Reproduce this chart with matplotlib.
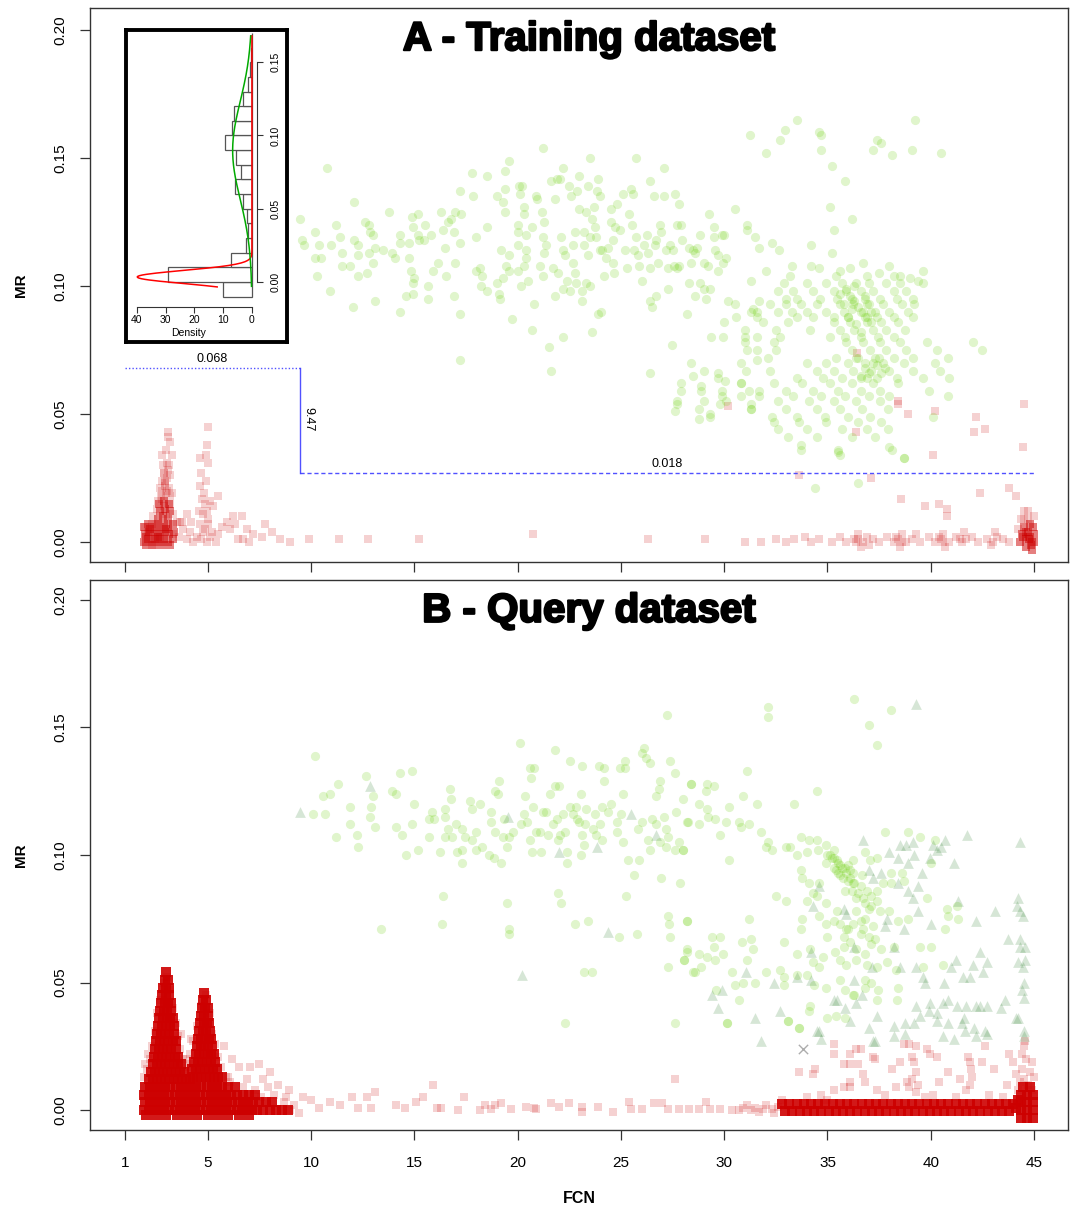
import numpy as np
import matplotlib
matplotlib.use("Agg")
import matplotlib.pyplot as plt
import matplotlib.patheffects as pe

plt.rcParams['font.family'] = ['Liberation Sans', 'DejaVu Sans']

# ---------------- axis ticks / labels ----------------
fcn_ticks = [1, 5, 10, 15, 20, 25, 30, 35, 40, 45]
mr_ticks = [0.0, 0.05, 0.10, 0.15, 0.20]
mr_tick_labels = ['0.00', '0.05', '0.10', '0.15', '0.20']
titles = ['A - Training dataset', 'B - Query dataset']

# ---------------- threshold annotation ----------------
fcn_cut = 9.47
mr_upper = 0.068
mr_lower = 0.027
fcn_min, fcn_max = 1, 45
cut_labels = ['0.068', '9.47', '0.018']

# ---------------- inset histogram (MR of training set) ----------------
hist_edges = [-0.01, 0.0, 0.01, 0.02, 0.03, 0.04, 0.05, 0.06, 0.07, 0.08, 0.09,
              0.10, 0.11, 0.12, 0.13, 0.14, 0.15, 0.16, 0.17]
hist_density = [10.2, 29.3, 7.2, 2.1, 1.5, 1.8, 3.0, 5.8, 3.8, 5.6, 9.3,
                7.0, 6.4, 3.2, 1.5, 0.7, 0.2, 0.1]
# fitted mixture components: weight, mean, sd
comp_neg = (0.44, 0.0034, 0.0044)
comp_pos = (0.563, 0.0898, 0.0335)
inset_xticks = [0, 10, 20, 30, 40]
inset_yticks = [0.0, 0.05, 0.10, 0.15]
inset_ylabels = ['0.00', '0.05', '0.10', '0.15']

# ---------------- training set: positive (green circles) ----------------
train_pos = [
(10.76,.146),(9.47,.126),(9.55,.118),(9.68,.116),(10.2,.121),(10.2,.111),(10.5,.111),(10.3,.104),(10.4,.116),(10.9,.098),
(10.95,.116),(11.2,.124),(11.4,.119),(11.5,.113),(11.5,.108),(11.9,.108),(12.05,.092),(12.1,.133),(12.1,.118),(12.3,.116),
(12.3,.112),(12.3,.104),(12.6,.125),(12.8,.124),(12.85,.121),(13.0,.120),(12.8,.113),(12.7,.105),(13.0,.109),(13.1,.094),
(13.1,.115),(13.5,.114),(13.8,.129),(13.9,.113),(14.05,.111),(14.3,.120),(14.3,.117),(14.3,.090),(14.6,.096),(14.75,.117),
(14.75,.111),(14.85,.106),(14.9,.127),(14.95,.123),(14.95,.101),(15.0,.103),(14.95,.097),(15.2,.128),(15.2,.120),(15.25,.118),
(15.45,.118),(15.5,.124),(15.65,.100),(15.65,.095),(15.8,.120),(15.9,.106),(16.15,.109),(16.3,.129),(16.4,.122),(16.5,.115),
(16.55,.104),(16.65,.125),(16.8,.126),(16.9,.121),(16.9,.096),(16.95,.109),(16.95,.129),(17.2,.137),(17.2,.117),(17.25,.128),
(17.2,.089),(17.2,.071),(17.8,.144),(17.85,.135),(18.0,.119),(18.0,.106),(18.2,.107),(18.3,.104),(18.25,.100),(18.5,.123),
(18.5,.098),(18.5,.143),(19.0,.135),(19.0,.101),(19.1,.097),(19.2,.114),(19.15,.095),(19.3,.133),(19.4,.129),(19.4,.138),
(19.4,.145),(19.3,.103),(19.45,.108),(19.6,.149),(19.6,.112),(19.75,.087),(19.6,.106),(20.05,.139),(20.1,.136),(20.0,.124),
(20.0,.121),(20.0,.116),(20.0,.106),(20.15,.100),(20.2,.139),(20.3,.131),(20.3,.128),(20.4,.120),(20.4,.114),(20.4,.111),
(20.3,.108),(20.5,.102),(20.7,.083),(20.7,.123),(20.8,.093),(20.9,.135),(20.95,.134),(21.1,.108),(21.25,.154),(21.2,.129),
(21.25,.119),(21.3,.125),(21.3,.113),(21.25,.104),(21.4,.116),(21.5,.076),(21.6,.141),(21.6,.067),(21.7,.107),(21.8,.134),
(21.8,.096),(21.9,.142),(21.95,.105),(22.05,.142),(22.1,.119),(22.2,.114),(22.2,.146),(22.2,.099),(22.2,.080),(22.3,.112),
(22.4,.102),(22.5,.139),(22.55,.098),(22.6,.135),(22.7,.116),(22.7,.109),(22.8,.105),(22.8,.121),(22.85,.101),(22.9,.137),
(22.95,.143),(22.95,.130),(23.1,.098),(23.1,.094),(23.2,.116),(23.2,.121),(23.3,.129),(23.3,.101),(23.4,.139),(23.4,.112),
(23.5,.119),(23.5,.100),(23.5,.150),(23.6,.126),(23.6,.082),(23.7,.131),(23.75,.123),(23.8,.119),(23.85,.137),(23.9,.142),
(23.9,.089),(24.0,.135),(24.0,.114),(24.05,.090),(24.1,.114),(24.2,.104),(24.3,.111),(24.4,.115),(24.5,.125),(24.5,.130),
(24.6,.109),(24.6,.118),(24.65,.105),(24.7,.123),(24.8,.132),(24.95,.122),(25.1,.136),(25.2,.114),(25.3,.107),(25.4,.128),
(25.5,.138),(25.55,.124),(25.6,.136),(25.65,.114),(25.75,.150),(25.75,.119),(25.85,.112),(25.9,.108),(26.0,.102),(26.1,.116),
(26.25,.120),(26.3,.113),(26.4,.107),(26.4,.141),(26.4,.094),(26.4,.066),(26.5,.092),(26.6,.135),(26.65,.116),(26.7,.118),
(26.7,.096),(26.8,.109),(26.9,.124),(26.95,.121),(27.1,.135),(27.1,.146),(27.2,.114),(27.3,.099),(27.3,.107),(27.4,.116),
(27.45,.077),(27.6,.136),(27.7,.124),(27.7,.107),
(27.8,.132),(27.9,.124),(27.5,.114),(27.55,.108),(27.8,.108),(27.95,.118),(28.2,.089),(28.3,.115),(28.4,.109),(28.5,.114),
(28.6,.113),(28.7,.115),(28.3,.101),(28.6,.096),(28.85,.101),(29.0,.109),(28.85,.120),(29.0,.099),(29.1,.095),(29.25,.128),
(29.3,.099),(29.2,.108),(29.5,.123),(29.5,.119),(29.55,.114),(29.7,.112),(29.7,.106),(29.9,.120),(29.95,.109),(30.1,.111),
(30.0,.120),(29.35,.080),(29.95,.080),(30.2,.094),(30.5,.130),(30.55,.088),(31.1,.124),(31.1,.122),(31.5,.119),(31.7,.115),
(32.3,.117),(32.65,.114),(32.0,.106),(31.3,.102),(31.4,.091),(31.7,.094),(31.6,.090),(31.0,.080),(31.1,.075),(31.6,.071),
(31.05,.067),(30.8,.062),(30.8,.057),(31.3,.054),(31.3,.052),(31.7,.059),(29.7,.066),(30.05,.063),(29.9,.059),(29.8,.054),
(29.3,.050),(28.8,.048),(29.0,.055),(28.9,.061),(28.5,.065),(27.9,.059),(27.7,.054),(27.6,.051),
(31.25,.159),(32.0,.152),(32.7,.157),(32.95,.161),(33.5,.165),(34.6,.160),(34.7,.159),(34.7,.153),(35.2,.147),(35.85,.141),
(35.1,.131),(36.2,.126),(35.3,.122),(35.2,.113),(34.2,.116),(37.2,.153),(37.4,.157),(37.6,.156),(38.1,.151),(39.1,.153),
(39.25,.165),(40.5,.152),
(34.2,.108),(34.6,.107),(35.6,.106),(36.1,.107),(36.7,.109),(36.9,.104),(37.5,.105),(38.0,.108),(38.2,.104),(38.5,.104),
(39.0,.103),(39.4,.102),(39.6,.106),(33.3,.108),(33.2,.104),(35.4,.104),
(32.9,.101),(33.35,.098),(33.5,.095),(34.0,.101),(34.3,.098),(34.65,.095),(34.95,.101),(35.3,.098),(35.45,.095),(35.7,.101),
(35.9,.098),(36.2,.095),(36.4,.101),(36.6,.098),(36.8,.095),(37.0,.101),(37.2,.098),(37.55,.095),(37.85,.101),(38.2,.098),
(38.35,.095),(38.5,.101),(38.8,.098),(39.15,.095),(39.6,.101),(32.6,.098),(33.0,.095),
(33.0,.093),(33.3,.090),(33.5,.088),(33.7,.093),(34.0,.090),(34.3,.088),(34.5,.093),(34.95,.090),(35.3,.088),(35.6,.093),
(35.8,.090),(36.0,.088),(36.25,.093),(36.6,.090),(36.8,.088),(36.9,.093),(37.1,.090),(37.4,.088),(37.7,.093),(38.0,.090),
(38.2,.088),(38.6,.093),(38.9,.090),(39.15,.088),(39.2,.093),(31.3,.090),(31.6,.088),(32.2,.093),(32.6,.090),(30.5,.093),
(31.9,.086),(32.5,.083),(32.7,.080),(33.1,.086),(34.15,.083),(35.1,.080),(35.3,.086),(35.6,.083),(35.85,.080),(36.1,.086),
(36.3,.083),(36.6,.080),(36.9,.086),(37.2,.083),(37.45,.080),(37.6,.086),(37.85,.083),(38.2,.080),(38.4,.086),(38.75,.083),
(30.0,.086),(31.0,.083),(31.6,.080),
(31.0,.078),(31.6,.075),(32.1,.072),(32.4,.078),(32.5,.075),(35.4,.072),(35.9,.078),(36.2,.075),(36.4,.072),(36.7,.078),
(37.05,.075),(37.3,.072),(37.55,.078),(37.85,.075),(38.2,.072),(38.5,.078),(38.8,.075),(39.15,.072),(39.8,.078),(40.3,.075),
(40.85,.072),(42.05,.078),(42.5,.075),
(28.4,.070),(29.0,.067),(29.7,.064),(30.8,.070),(32.2,.067),(33.5,.064),(34.0,.070),(34.5,.067),(34.8,.064),(34.95,.070),
(35.3,.067),(35.7,.064),(36.0,.070),(36.25,.067),(36.6,.064),(36.8,.070),(37.1,.067),(37.4,.064),(37.7,.070),(38.0,.067),
(38.35,.064),(38.7,.070),(39.15,.067),(39.6,.064),(40.2,.070),(40.45,.067),(40.9,.064),
(27.9,.062),(28.9,.059),(29.9,.057),(30.8,.062),(31.2,.059),(31.7,.057),(32.4,.062),(33.0,.059),(33.35,.057),(33.75,.062),
(34.3,.059),(34.7,.057),(35.1,.062),(35.5,.059),(35.85,.057),(36.2,.062),(36.6,.059),(37.0,.057),(37.2,.062),(37.55,.059),
(38.0,.057),(38.4,.062),(39.9,.059),(40.85,.057),
(27.7,.055),(28.8,.052),(29.3,.049),(30.1,.055),(31.3,.052),(32.3,.049),(32.6,.055),(33.0,.052),(33.5,.049),(34.1,.055),
(34.5,.052),(34.9,.049),(35.3,.055),(35.6,.052),(36.0,.049),(36.4,.055),(36.65,.052),(37.05,.049),(37.55,.055),(37.95,.052),
(40.1,.049),
(32.4,.047),(32.6,.044),(33.1,.041),(33.6,.047),(34.0,.044),(34.5,.041),(34.95,.047),(35.7,.044),(36.2,.041),(36.5,.047),
(36.9,.044),(37.3,.041),(37.6,.047),(37.95,.044),
(33.7,.038),(35.5,.036),(35.6,.034),(38.0,.037),(38.7,.033),
(35.9,.099),(36.1,.096),(36.3,.094),(36.5,.092),(36.7,.090),(36.9,.088),(37.1,.086),(36.0,.088),(36.4,.085),(36.6,.082),
(36.2,.091),(35.8,.093),(37.2,.070),(36.8,.068),(37.0,.066),(37.4,.069),(36.5,.072),(37.6,.066),(36.9,.064),(36.3,.100),
(35.6,.097),(37.3,.090),(37.0,.093),(36.8,.096),(37.5,.072),(37.8,.068),(36.6,.065),
(34.4,.021),(36.5,.023),(38.7,.033),(38.1,.036),(33.7,.036),(35.5,.035),
]

# ---------------- training set: negative (red squares), dense core ----------------
train_neg_core = [
(1.9,.000),(2.1,.001),(2.3,.000),(2.5,.001),(2.7,.000),(2.9,.001),(3.1,.000),(3.3,.001),
(1.95,.003),(2.15,.004),(2.35,.003),(2.55,.004),(2.75,.003),(2.95,.004),(3.15,.003),(3.35,.004),
(1.9,.006),(2.1,.007),(2.3,.006),(2.5,.007),(2.7,.006),(2.9,.007),(3.1,.006),(3.3,.007),
(2.0,-.001),(2.4,-.001),(2.8,-.001),(3.2,-.001),(2.0,.002),(2.6,.002),(3.0,.005),(2.2,.005),
(2.6,.009),(2.85,.010),(3.1,.009),(2.7,.012),(2.95,.013),(3.2,.012),(2.65,.015),(2.9,.016),(3.15,.015),
(44.3,.000),(44.6,.001),(44.9,.000),(44.4,.003),(44.7,.004),(45.0,.003),(44.5,.006),(44.8,.007),(44.95,.006),
(44.6,-.002),(44.9,-.003),(44.75,.001),(44.85,-.001),(44.45,.002),(44.8,.002),(45.0,.000),(44.6,.004),
]

# ---------------- training set: negative (red squares), scattered ----------------
train_neg = [
(2.75,.018),(3.0,.019),(3.2,.018),(2.7,.021),(2.95,.022),(3.15,.021),(2.8,.024),(3.05,.025),(2.9,.027),
(3.1,.028),(2.85,.030),(3.05,.031),(2.9,.014),(3.0,.011),(2.8,.017),(3.05,.020),(2.95,.024),
(3.07,.043),(3.1,.041),(3.18,.039),(2.98,.036),(2.77,.034),(3.26,.034),(3.13,.030),(2.89,.027),(3.18,.026),
(2.93,.023),(2.77,.020),(3.26,.019),(2.61,.016),(3.18,.015),(2.53,.013),(3.34,.011),(2.37,.010),(3.5,.008),
(3.74,.008),(2.29,.007),(1.97,.006),(2.13,.004),(2.45,.001),(2.69,.002),(3.34,.003),(2.29,-.001),
(5.0,.045),(4.95,.038),(4.92,.034),(5.03,.031),(4.63,.033),(4.68,.027),(4.63,.022),(4.87,.015),(4.79,.011),
(4.95,.012),(5.27,.014),(5.51,.018),(5.03,.007),(4.63,.007),(4.79,.004),(5.11,.002),(4.47,.002),(4.8,.019),
(4.9,.024),(4.75,.017),(5.0,.009),(4.85,.005),(4.6,.012),(5.1,.016),(4.7,.001),(4.95,.000),(5.2,.004),
(3.66,.008),(3.98,.011),(4.14,.004),(3.98,.001),(3.6,.002),(3.8,.005),(4.2,.008),(4.3,.000),(5.92,.008),
(6.24,.010),(6.64,.010),(6.32,.007),(6.08,.005),(6.89,.005),(6.48,.001),(6.73,.001),(5.5,.003),(5.7,.006),
(5.4,.000),(7.77,.007),(8.1,.004),(7.61,.002),(8.5,.001),(8.98,.000),(9.9,.001),(11.37,.001),(12.74,.001),
(15.24,.001),(20.76,.003),(26.3,.001),(29.06,.001),(7.2,.003),(7.0,.000),
(31.0,.000),(31.8,.000),(32.5,.001),(33.0,.000),(33.4,.001),(33.9,.002),(34.2,.000),(34.6,.001),(35.2,.000),
(35.6,.002),(35.9,.000),(36.3,.001),(36.5,.003),(36.7,.000),(36.9,.002),(37.2,.001),(37.5,.000),(37.9,.002),
(38.2,.000),(38.4,.001),(38.6,.003),(38.8,.000),(39.1,.001),(39.5,.000),(39.9,.002),(40.2,.000),(40.5,.001),
(40.6,.003),(40.9,.000),(41.2,.002),(41.5,.000),(41.7,.001),(42.0,.002),(42.3,.000),(42.7,.001),(43.0,.000),
(43.2,.002),(43.5,.001),(43.8,.000),(36.6,-.002),(38.5,-.002),(40.7,-.002),(41.6,.004),(43.1,.004),(42.9,-.001),
(39.3,.003),(37.0,-.001),(36.4,.000),(38.3,.002),(40.4,.002),(41.4,.001),(36.5,.001),(38.6,.000),(40.6,.000),
(44.35,.009),(44.7,.009),(44.5,.012),(45.0,.010),(44.2,.005),
(33.6,.026),(37.1,.025),(38.55,.017),(39.7,.014),(40.4,.015),(40.8,.013),(40.8,.010),(42.4,.019),(43.8,.021),
(44.1,.018),(44.45,.037),(44.5,.054),(42.2,.049),(42.6,.044),(42.1,.043),(40.1,.034),(38.9,.050),(40.2,.051),
(36.4,.043),(30.2,.053),(38.4,.055),(36.45,.074),(38.4,.054),(44.7,.012),(44.5,.009),
]

# ---------------- query set: negative (red squares, dense core) ----------------
query_neg_core = [
(2.98,.054),(2.92,.051),(3.06,.051),(2.85,.048),(3.0,.048),(3.12,.048),(2.8,.045),(2.98,.045),(3.15,.045),
(2.75,.042),(2.92,.042),(3.1,.042),(3.22,.042),(2.7,.039),(2.88,.039),(3.05,.039),(3.22,.039),
(2.65,.036),(2.85,.036),(3.02,.036),(3.2,.036),(3.3,.036),(2.6,.033),(2.8,.033),(3.0,.033),(3.18,.033),(3.35,.033),
(2.55,.030),(2.75,.030),(2.95,.030),(3.15,.030),(3.35,.030),(2.5,.027),(2.7,.027),(2.9,.027),(3.1,.027),(3.3,.027),(3.45,.027),
(2.45,.024),(2.65,.024),(2.85,.024),(3.05,.024),(3.25,.024),(3.45,.024),
(2.4,.021),(2.6,.021),(2.8,.021),(3.0,.021),(3.2,.021),(3.4,.021),(3.55,.021),
(2.35,.018),(2.55,.018),(2.75,.018),(2.95,.018),(3.15,.018),(3.35,.018),(3.55,.018),(3.7,.018),
(2.25,.015),(2.45,.015),(2.65,.015),(2.85,.015),(3.05,.015),(3.25,.015),(3.45,.015),(3.65,.015),(3.85,.015),
(2.15,.012),(2.35,.012),(2.55,.012),(2.75,.012),(2.95,.012),(3.15,.012),(3.35,.012),(3.55,.012),(3.75,.012),(3.95,.012),(4.15,.012),
(4.84,.046),(4.78,.043),(4.92,.043),(4.72,.040),(4.88,.040),(5.0,.040),(4.68,.037),(4.84,.037),(5.0,.037),
(4.62,.034),(4.8,.034),(4.96,.034),(5.08,.034),(4.58,.031),(4.76,.031),(4.94,.031),(5.1,.031),
(4.52,.028),(4.7,.028),(4.88,.028),(5.06,.028),(5.18,.028),(4.48,.025),(4.66,.025),(4.84,.025),(5.02,.025),(5.2,.025),
(4.42,.022),(4.6,.022),(4.8,.022),(5.0,.022),(5.18,.022),(5.3,.022),
(4.35,.019),(4.55,.019),(4.75,.019),(4.95,.019),(5.15,.019),(5.35,.019),
(4.25,.016),(4.45,.016),(4.65,.016),(4.85,.016),(5.05,.016),(5.25,.016),(5.45,.016),
(4.3,.013),(4.5,.013),(4.7,.013),(4.9,.013),(5.1,.013),(5.3,.013),(5.5,.013),(5.7,.013),
(1.95,.009),(2.2,.009),(2.45,.009),(2.7,.009),(2.95,.009),(3.2,.009),(3.45,.009),(3.7,.009),(3.95,.009),(4.2,.009),
(4.45,.009),(4.7,.009),(4.95,.009),(5.2,.009),(5.45,.009),(5.7,.009),(6.0,.009),(6.3,.009),
(1.9,.006),(2.15,.006),(2.4,.006),(2.65,.006),(2.9,.006),(3.15,.006),(3.4,.006),(3.65,.006),(3.9,.006),(4.15,.006),
(4.4,.006),(4.65,.006),(4.9,.006),(5.15,.006),(5.4,.006),(5.65,.006),(5.9,.006),(6.15,.006),(6.4,.006),(6.7,.006),
(7.0,.006),(7.3,.006),
(1.95,.003),(2.2,.003),(2.45,.003),(2.7,.003),(2.95,.003),(3.2,.003),(3.45,.003),(3.7,.003),(3.95,.003),(4.2,.003),
(4.45,.003),(4.7,.003),(4.95,.003),(5.2,.003),(5.45,.003),(5.7,.003),(5.95,.003),(6.2,.003),(6.45,.003),(6.7,.003),
(6.95,.003),(7.2,.003),(7.5,.003),(7.8,.003),(8.1,.003),
(1.9,.000),(2.15,.000),(2.4,.000),(2.65,.000),(2.9,.000),(3.15,.000),(3.4,.000),(3.65,.000),(3.9,.000),(4.15,.000),
(4.4,.000),(4.65,.000),(4.9,.000),(5.15,.000),(5.4,.000),(5.65,.000),(5.9,.000),(6.15,.000),(6.4,.000),(6.65,.000),
(6.9,.000),(7.15,.000),(7.4,.000),(7.7,.000),(8.0,.000),(8.3,.000),(8.6,.000),(8.9,.000),
(2.0,-.002),(2.5,-.002),(3.0,-.002),(3.5,-.002),(4.0,-.002),(4.5,-.002),(5.0,-.002),(5.5,-.002),(6.0,-.002),(6.5,-.002),(7.0,-.002),
(32.8,.0025),(33.15,.0025),(33.5,.0025),(33.85,.0025),(34.2,.0025),(34.55,.0025),(34.9,.0025),(35.25,.0025),(35.6,.0025),
(35.95,.0025),(36.3,.0025),(36.65,.0025),(37.0,.0025),(37.35,.0025),(37.7,.0025),(38.05,.0025),(38.4,.0025),(38.75,.0025),
(39.1,.0025),(39.45,.0025),(39.8,.0025),(40.15,.0025),(40.5,.0025),(40.85,.0025),(41.2,.0025),(41.55,.0025),(41.9,.0025),
(42.25,.0025),(42.6,.0025),(42.95,.0025),(43.3,.0025),(43.65,.0025),(44.0,.0025),
(32.95,-.0005),(33.3,-.0005),(33.65,-.0005),(34.0,-.0005),(34.35,-.0005),(34.7,-.0005),(35.05,-.0005),(35.4,-.0005),
(35.75,-.0005),(36.1,-.0005),(36.45,-.0005),(36.8,-.0005),(37.15,-.0005),(37.5,-.0005),(37.85,-.0005),(38.2,-.0005),
(38.55,-.0005),(38.9,-.0005),(39.25,-.0005),(39.6,-.0005),(39.95,-.0005),(40.3,-.0005),(40.65,-.0005),(41.0,-.0005),
(41.35,-.0005),(41.7,-.0005),(42.05,-.0005),(42.4,-.0005),(42.75,-.0005),(43.1,-.0005),(43.45,-.0005),(43.8,-.0005),
(44.35,-.003),(44.65,-.003),(44.95,-.003),(44.35,.000),(44.65,.000),(44.95,.000),(44.35,.003),(44.65,.003),(44.95,.003),
(44.35,.006),(44.65,.006),(44.95,.006),(44.45,.009),(44.8,.009),(44.1,.001),(44.2,.004),
]

# ---------------- query set: negative (red squares, scattered) ----------------
query_neg = [
(3.05,.052),(2.88,.050),(3.2,.047),(2.68,.043),(3.3,.040),(2.55,.038),(3.45,.034),(2.45,.031),(3.55,.029),
(2.3,.025),(3.65,.024),(2.2,.020),(3.8,.020),(2.05,.016),(4.0,.017),(4.9,.045),(4.7,.041),(5.1,.038),(4.5,.033),
(5.2,.030),(4.3,.027),(5.35,.026),(4.15,.022),(5.5,.021),(5.65,.017),(4.1,.018),(5.9,.013),(6.1,.011),
(7.5,.018),(8.0,.015),(7.05,.017),(6.5,.017),(7.7,.012),(8.4,.010),(8.95,.008),(15.9,.010),(13.1,.007),(12.7,.005),
(17.4,.005),(17.1,.000),(18.2,.000),(9.6,.005),(10.0,.004),(10.4,.001),(10.9,.003),(11.4,.002),(12.0,.005),(12.3,.001),
(12.9,.001),(14.1,.002),(14.55,.001),(15.1,.003),(15.4,.005),(16.1,.001),(16.3,.001),(18.4,.002),(6.2,.020),(5.8,.025),
(6.0,.013),(6.9,.012),(7.3,.008),(8.2,.006),(8.7,.003),(9.2,.002),(9.0,.000),(3.7,.030),(4.2,.028),(1.95,.018),
(2.1,.022),(1.9,.013),(4.0,.020),(9.4,-.001),(8.8,.005),(7.9,.009),(6.7,.009),(7.6,.005),
(18.7,.0004),(18.9,.002),(19.2,.0026),(19.7,.0004),(20.4,.0013),(20.9,.0004),(21.6,.0026),(22.0,.0013),(22.5,.0026),
(23.1,-.0007),(23.1,.0013),(23.9,.0013),(24.6,-.0007),(25.4,.0033),(25.5,.0004),(26.0,.0004),(26.6,.0026),(27.0,.0026),
(27.3,.0004),(27.8,.0004),(28.3,.0004),(28.8,.0004),(29.1,.0033),(29.3,.0004),(29.8,.0004),(30.4,.000),(30.7,.000),
(31.3,.000),(31.7,-.0007),(31.9,.0004),(32.3,.0004),(32.6,.0013),(27.6,.012),(31.1,.002),(31.5,.001),(32.0,.002),
(32.4,-.001),(32.8,.004),(30.9,.001),(20.8,.001),
(35.3,.026),(35.3,.022),(36.1,.022),(36.4,.024),(36.6,.024),(37.2,.021),(37.3,.020),(35.8,.018),(36.1,.018),
(36.5,.018),(33.6,.015),(34.4,.016),(34.3,.014),(36.7,.014),(36.1,.011),(35.8,.009),(35.3,.008),(34.7,.006),
(37.4,.008),(38.1,.016),(38.7,.026),(38.95,.026),(39.3,.025),(39.8,.024),(39.95,.022),(40.3,.021),(39.1,.021),
(39.2,.019),(38.5,.019),(39.3,.015),(39.1,.012),(38.85,.011),(39.4,.010),(38.95,.009),(38.3,.009),(39.3,.007),
(40.4,.011),(40.85,.015),(41.4,.012),(41.9,.019),(41.8,.021),(41.95,.016),(42.0,.013),(41.9,.010),(41.7,.008),
(42.5,.019),(42.6,.025),(43.05,.016),(43.8,.022),(44.0,.019),(44.1,.014),(44.4,.022),(44.5,.025),(44.6,.020),
(44.4,.016),(44.3,.011),(44.5,.012),(44.7,.010),(44.9,.008),(44.9,.019),(44.55,.027),(36.8,.011),(36.1,.009),
(37.8,.006),(40.1,.006),(42.8,.006),(43.5,.005),(39.7,.005),(34.0,.005),(35.0,.004),(41.2,.005),(44.8,.015),
(45.0,.013),(44.2,.008),(43.7,.010),
]

# ---------------- query set: positive (green circles) ----------------
query_pos = [
(10.2,.139),(10.1,.116),(10.7,.116),(10.6,.123),(10.9,.124),(11.3,.128),(11.2,.107),(11.9,.119),(11.9,.112),(12.25,.108),
(12.3,.103),(12.65,.131),(13.0,.123),(12.9,.119),(12.85,.115),(13.1,.111),(13.4,.071),(13.9,.125),(14.1,.124),(14.1,.111),
(14.3,.132),(14.4,.108),(14.6,.100),(14.9,.133),(14.9,.112),(15.0,.120),(15.2,.102),(15.7,.114),(15.7,.107),(15.85,.117),
(15.95,.114),(16.25,.101),(16.4,.084),(16.35,.073),(16.5,.118),(16.5,.115),(16.5,.107),(16.65,.110),(16.75,.126),(16.8,.122),
(16.85,.107),(17.0,.112),(17.05,.101),(17.3,.110),(17.3,.097),(17.3,.102),(17.45,.107),(17.7,.121),(17.8,.118),(17.8,.106),
(18.0,.109),(18.0,.102),(18.2,.120),(18.3,.103),(18.6,.100),(18.7,.117),(18.7,.113),(18.85,.099),(18.9,.125),(18.9,.109),
(19.05,.124),(19.1,.129),(19.2,.097),(19.3,.107),(19.35,.114),(19.5,.103),(19.5,.081),(19.6,.107),(19.6,.071),(19.6,.069),
(19.8,.109),(20.1,.144),(20.15,.112),(20.3,.116),(20.35,.123),(20.45,.113),(20.6,.134),(20.6,.106),(20.65,.130),(20.7,.101),
(20.75,.119),(20.8,.134),(20.9,.109),(21.1,.109),(21.15,.101),(21.25,.117),(21.4,.117),(21.45,.108),(21.55,.124),(21.7,.112),
(21.8,.141),(21.8,.127),(21.9,.114),(21.95,.085),(22.0,.127),(22.05,.108),(21.95,.106),(22.1,.081),(22.2,.116),(22.3,.109),
(22.4,.097),(22.4,.101),(22.55,.137),(22.55,.119),(22.7,.116),(22.8,.073),(22.85,.119),(22.9,.114),(22.95,.113),(23.05,.100),
(23.05,.124),(23.1,.135),(23.1,.108),(23.2,.104),(23.2,.054),(23.25,.112),(23.3,.118),(23.4,.074),(23.6,.054),(23.65,.110),
(23.75,.116),(23.8,.108),(23.95,.135),(23.98,.112),(24.1,.106),(24.1,.119),(24.2,.134),(24.2,.129),(24.4,.117),(24.5,.120),
(24.8,.109),(24.8,.113),(24.9,.068),(24.95,.134),(25.0,.116),(25.1,.105),(25.1,.124),(25.2,.137),(25.2,.134),(25.25,.084),
(25.35,.098),(25.65,.092),(25.8,.069),(25.85,.110),(25.9,.098),(26.0,.113),(26.0,.140),(26.1,.142),(26.2,.138),(26.3,.106),
(26.4,.136),(26.4,.102),(26.5,.114),(26.7,.112),(26.7,.123),(26.85,.126),(26.9,.129),(26.95,.091),(26.9,.105),(27.1,.115),
(27.2,.103),(27.2,.110),(27.25,.155),(27.3,.107),(27.3,.076),(27.3,.056),(27.35,.073),(27.4,.068),(27.4,.137),(27.6,.132),
(27.6,.102),(27.65,.117),(27.8,.105),(27.85,.089),(28.0,.102),(28.0,.122),(28.05,.059),(28.2,.062),(28.2,.074),(28.25,.113),
(28.4,.128),(28.5,.054),(22.3,.034),(27.6,.034),(30.15,.034),(33.6,.032),(33.1,.035),
(32.1,.158),(32.1,.154),(36.3,.161),(38.05,.157),(37.0,.151),(37.4,.143),(31.1,.133),(28.4,.128),(29.15,.128),(29.5,.127),
(29.1,.125),(34.5,.125),(30.9,.123),(28.8,.120),(30.25,.119),(31.6,.120),(33.4,.120),(29.15,.118),(29.2,.115),(29.55,.114),
(28.2,.113),(28.8,.112),(30.1,.113),(30.7,.113),(30.8,.111),(31.2,.112),(29.8,.108),(31.8,.109),(28.0,.102),(30.25,.098),
(33.7,.107),(34.1,.106),(34.5,.106),(34.95,.104),(32.1,.105),(32.0,.103),(32.3,.102),(33.0,.103),(33.2,.103),(33.5,.100),
(34.0,.101),(34.55,.102),(35.1,.100),(35.3,.099),(35.45,.098),(35.6,.096),(35.85,.095),(36.1,.094),(36.25,.098),(34.95,.097),
(35.3,.095),(35.5,.093),(35.75,.091),(36.0,.090),(36.25,.089),(36.6,.088),(36.9,.086),(37.1,.084),(37.4,.082),(36.8,.101),
(37.05,.098),(37.4,.099),(37.8,.109),(38.9,.109),(39.5,.107),(40.2,.106),(38.05,.093),(38.6,.093),(38.7,.090),(38.05,.089),
(37.7,.089),(37.4,.086),(36.65,.092),(36.25,.093),(35.85,.086),(36.4,.083),(36.8,.081),(37.1,.080),(37.55,.078),(38.0,.078),
(38.4,.074),(38.9,.075),(39.8,.083),(40.0,.097),(40.8,.079),(40.85,.076),(41.3,.075),(40.7,.071),(41.25,.080),(32.5,.084),
(33.0,.082),(34.0,.082),(34.3,.085),(34.6,.089),(33.75,.091),(33.7,.094),(34.1,.089),(34.5,.084),(34.95,.081),(35.45,.078),
(34.6,.076),(34.95,.073),(35.3,.074),(35.6,.073),(35.9,.071),(36.25,.073),(36.6,.074),(36.7,.071),(37.0,.068),(37.3,.067),
(35.0,.068),(35.35,.062),(35.8,.064),(36.1,.066),(36.4,.063),(36.8,.061),(37.1,.065),(37.6,.063),(38.2,.064),(39.5,.064),
(40.0,.064),(33.7,.071),(33.75,.075),(32.9,.066),(33.5,.061),(34.15,.063),(34.3,.058),(34.6,.056),(34.8,.060),(35.6,.059),
(35.9,.057),(36.4,.059),(36.9,.057),(37.4,.056),(37.9,.058),(38.3,.055),(39.6,.056),(40.6,.057),(32.7,.055),(32.9,.052),
(32.9,.049),(33.5,.053),(34.0,.053),(34.35,.049),(34.95,.048),(35.6,.051),(35.85,.047),(36.25,.045),(36.8,.048),(37.1,.050),
(37.4,.043),(38.35,.043),(38.4,.048),(32.0,.054),(31.5,.050),(30.9,.050),(30.5,.049),(30.7,.043),(30.4,.054),(29.95,.061),
(29.5,.064),(29.15,.060),(28.8,.061),(28.2,.063),(28.05,.059),(28.6,.054),(28.9,.056),(29.55,.059),(29.8,.068),(30.85,.066),
(31.3,.067),(31.4,.063),(31.1,.059),(29.4,.068),(28.2,.074),(31.2,.075),(29.6,.047),(30.15,.034),(33.1,.035),(33.6,.032),
(34.15,.041),(34.1,.039),(35.0,.036),(35.4,.037),(35.85,.036),(36.3,.045),(36.8,.051),(37.45,.047),
(35.2,.099),(35.5,.097),(35.7,.095),(35.9,.093),(36.1,.091),(36.3,.089),(35.4,.094),(35.6,.092),(36.0,.096),(36.2,.086),
(36.5,.085),(36.7,.083),(37.0,.079),(36.4,.078),(36.8,.075),(37.2,.072),(36.0,.071),(35.8,.068),(36.6,.069),(35.3,.102),
(35.0,.100),
]

# ---------------- query set: other class (dark-green triangles) ----------------
query_other = [
(9.47,.117),(12.85,.127),(19.55,.115),(20.2,.053),(22.0,.101),(23.85,.103),(24.4,.070),(25.5,.116),(26.7,.108),
(39.3,.159),(36.7,.106),(38.5,.104),(38.8,.104),(39.15,.105),(40.1,.104),(40.7,.106),(41.75,.108),(44.3,.105),
(38.0,.101),(38.4,.099),(38.9,.097),(39.2,.100),(39.95,.099),(40.3,.102),(40.5,.103),(41.1,.097),(37.0,.094),
(37.6,.093),(39.55,.093),(38.4,.089),(39.4,.088),(38.9,.086),(39.15,.083),(39.4,.078),(37.2,.091),(41.3,.082),
(43.1,.078),(42.2,.074),(44.2,.083),(44.15,.080),(44.3,.078),(44.45,.076),(34.6,.088),(34.3,.080),(35.8,.079),
(35.9,.077),(37.9,.075),(37.8,.072),(38.7,.071),(40.0,.073),(38.2,.064),(36.3,.064),(43.75,.067),(44.3,.067),
(44.55,.064),(44.3,.064),(42.4,.062),(41.2,.059),(42.05,.057),(42.7,.058),(44.2,.058),(44.55,.059),(44.45,.056),
(39.3,.056),(37.15,.056),(38.5,.056),(39.6,.052),(39.7,.050),(40.65,.050),(41.0,.056),(41.55,.052),(41.9,.052),
(42.55,.054),(44.5,.050),(34.2,.062),(33.5,.052),(34.2,.051),(32.4,.050),(31.05,.054),(29.9,.047),(29.4,.045),
(29.7,.040),(32.7,.039),(31.5,.036),(31.8,.027),(34.5,.031),(34.7,.028),(36.1,.035),(35.3,.043),(37.0,.032),
(37.4,.037),(37.2,.027),(38.2,.033),(38.75,.034),(39.2,.034),(38.75,.030),(38.2,.029),(39.5,.037),(40.3,.035),
(40.85,.034),(40.6,.029),(41.1,.028),(41.5,.034),(41.6,.036),(41.65,.031),(42.1,.032),(42.2,.029),(42.6,.031),
(39.95,.042),(40.6,.042),(40.85,.043),(41.25,.041),(41.7,.041),(42.2,.041),(42.4,.041),(42.7,.041),(43.4,.040),
(43.6,.043),(44.1,.036),(44.2,.036),(44.5,.031),(44.5,.029),(44.5,.044),(40.3,.038),(39.9,.039),(39.3,.041),
(36.65,.045),(35.45,.043),(36.4,.042),(36.3,.051),(35.85,.040),(44.4,.047),(34.6,.031),(37.3,.027),(42.7,.030),
]

query_unknown = [(33.8, .024)]

# ---------------- figure ----------------
W, H = 1073, 1206
fig = plt.figure(figsize=(W / 100, H / 100), dpi=100)
axA = fig.add_axes([90 / W, 1 - 562 / H, 978 / W, 554 / H])
axB = fig.add_axes([90 / W, 1 - 1130 / H, 978 / W, 550 / H])

GREEN = '#66CD00'
RED = '#CD0000'
DKGREEN = '#006400'


def pts(ax, data, **kw):
    x, y = zip(*data)
    ax.scatter(x, y, linewidths=0, **kw)


# panel A
pts(axA, train_neg_core, marker='s', s=40, color=RED, alpha=0.5, zorder=2)
pts(axA, train_neg, marker='s', s=33, color=RED, alpha=0.18, zorder=2)
pts(axA, train_pos, marker='o', s=44, color=GREEN, alpha=0.2, zorder=3)
axA.plot([fcn_min, fcn_cut], [mr_upper, mr_upper], color='#3333FF', lw=1.0, ls=(0, (1, 1.5)), alpha=0.85, zorder=4)
axA.plot([fcn_cut, fcn_cut], [mr_upper, mr_lower], color='#3333FF', lw=1.0, alpha=0.85, zorder=4)
axA.plot([fcn_cut, fcn_max], [mr_lower, mr_lower], color='#3333FF', lw=1.0, ls=(0, (3, 2)), alpha=0.85, zorder=4)
axA.text((fcn_min + fcn_cut) / 2, mr_upper + 0.0012, cut_labels[0], ha='center', va='bottom', fontsize=9)
axA.text(fcn_cut + 0.1, (mr_upper + mr_lower) / 2 + 0.0005, cut_labels[1], ha='left', va='center',
         rotation=-90, fontsize=9)
axA.text((fcn_cut + fcn_max) / 2, mr_lower + 0.0012, cut_labels[2], ha='center', va='bottom', fontsize=9)

# panel B
pts(axB, query_neg_core, marker='s', s=48, color=RED, alpha=0.9, zorder=2)
pts(axB, query_neg, marker='s', s=33, color=RED, alpha=0.18, zorder=2)
pts(axB, query_pos, marker='o', s=44, color=GREEN, alpha=0.2, zorder=3)
pts(axB, query_other, marker='^', s=60, color=DKGREEN, alpha=0.16, zorder=3)
ux, uy = zip(*query_unknown)
axB.scatter(ux, uy, marker='x', s=45, color='#999999', alpha=0.8, linewidths=1.0, zorder=3)

for ax, ylim, title in ((axA, (-0.0078, 0.2086), titles[0]), (axB, (-0.0078, 0.2078), titles[1])):
    ax.set_xlim(-0.694, 46.64)
    ax.set_ylim(*ylim)
    ax.set_xticks(fcn_ticks)
    ax.set_yticks(mr_ticks)
    ax.set_yticklabels(mr_tick_labels, rotation=90, va='center')
    ax.tick_params(axis='both', length=7, width=0.9, color='#333333', labelsize=11)
    ax.tick_params(axis='x', pad=11.5)
    ax.tick_params(axis='y', pad=9)
    for sp in ax.spines.values():
        sp.set_color('#333333')
        sp.set_linewidth(1.0)
    ax.set_ylabel('MR', fontsize=11, fontweight='bold')
    ax.yaxis.set_label_coords(-0.0634, 0.5)
    t = ax.text(0.51, 0.924, title, transform=ax.transAxes, ha='center', va='baseline',
                fontsize=29, fontweight='bold', color='black')
    t.set_path_effects([pe.withStroke(linewidth=1.6, foreground='black')])

axA.tick_params(axis='x', labelbottom=False)
axB.set_xlabel('FCN', fontsize=11.5, fontweight='bold')
axB.xaxis.set_label_coords(0.5, -0.111)

# ---------------- inset ----------------
box = [126 / W, 1 - 342 / H, 161 / W, 312 / H]
axF = fig.add_axes(box, zorder=5)
axF.set_xticks([])
axF.set_yticks([])
axF.set_facecolor('white')
for sp in axF.spines.values():
    sp.set_linewidth(2.8)
    sp.set_color('black')

axI = fig.add_axes(box, zorder=6)
axI.patch.set_alpha(0)
axI.set_xlim(43.8, -12.2)
axI.set_ylim(-0.041, 0.172)
edges = np.array(hist_edges)
axI.barh(edges[:-1], hist_density, height=np.diff(edges), left=0, align='edge',
         color='white', edgecolor='#555555', linewidth=0.9)


def normal_curve(comp, lo, hi):
    w, mu, sd = comp
    yy = np.linspace(lo, hi, 400)
    return w * np.exp(-0.5 * ((yy - mu) / sd) ** 2) / (sd * np.sqrt(2 * np.pi)), yy


d, yy = normal_curve(comp_neg, -0.0034, 0.168)
axI.plot(d, yy, color='red', lw=1.1)
d, yy = normal_curve(comp_pos, -0.003, 0.168)
axI.plot(d, yy, color='#00AA00', lw=1.1)

axI.spines['top'].set_visible(False)
axI.spines['left'].set_visible(False)
axI.spines['bottom'].set_position(('data', -0.017))
axI.spines['bottom'].set_bounds(0, 40)
axI.spines['right'].set_position(('data', -1.74))
axI.spines['right'].set_bounds(0, 0.15)
for s in ('bottom', 'right'):
    axI.spines[s].set_color('#333333')
    axI.spines[s].set_linewidth(0.8)
axI.yaxis.tick_right()
axI.set_xticks(inset_xticks)
axI.set_xticklabels([str(v) for v in inset_xticks])
axI.set_yticks(inset_yticks)
axI.set_yticklabels(inset_ylabels, rotation=90, va='center')
axI.tick_params(axis='both', labelsize=7.5, length=4, width=0.8, color='#333333')
axI.tick_params(axis='x', pad=2)
axI.tick_params(axis='y', pad=6)
axI.set_xlabel('Density', fontsize=7.5)
axI.xaxis.set_label_coords(0.39, 0.045)

fig.savefig('out.png', dpi=100)
